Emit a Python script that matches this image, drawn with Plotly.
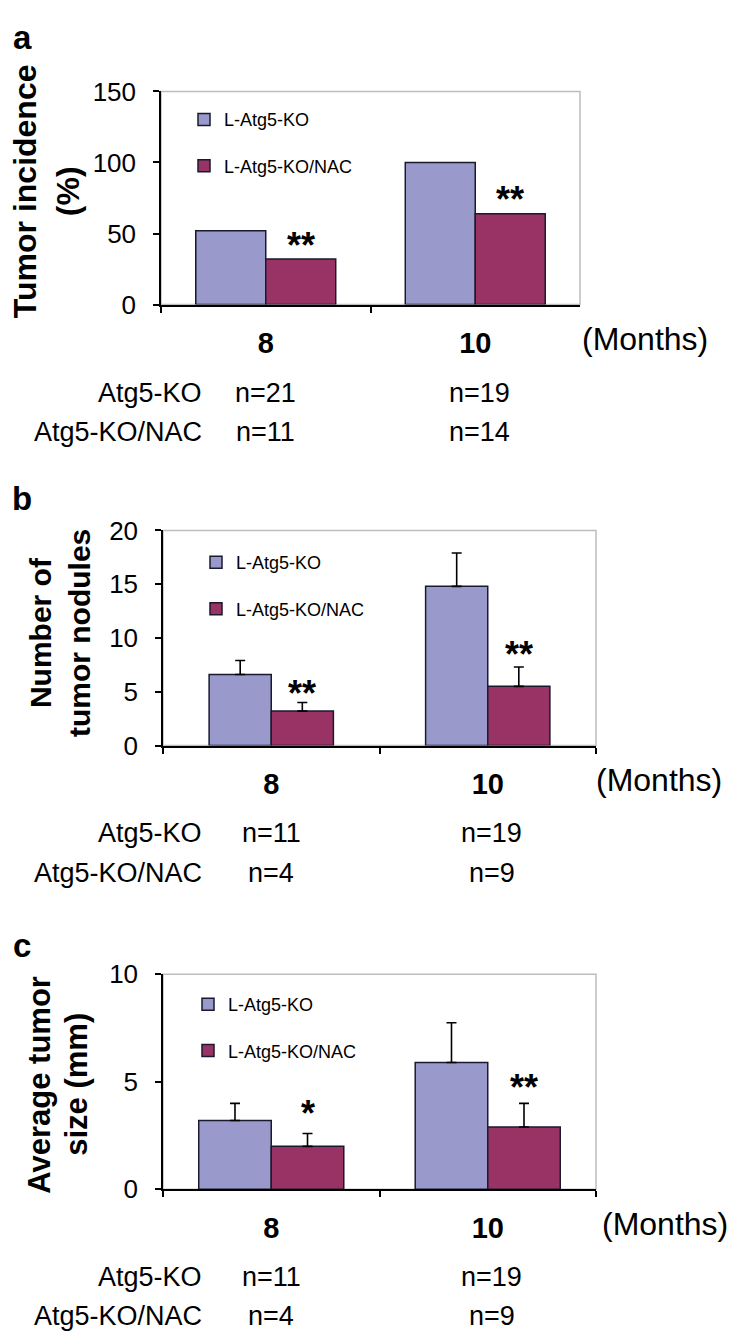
import plotly.graph_objects as go

W, H = 739, 1344

# ---------------- data ----------------
months = ["8", "10"]
series_names = ["L-Atg5-KO", "L-Atg5-KO/NAC"]
row_labels = ["Atg5-KO", "Atg5-KO/NAC"]

incidence_ko = [52, 100]
incidence_nac = [32, 64]

nodules_ko = [6.6, 14.8]
nodules_ko_err = [1.3, 3.1]
nodules_nac = [3.2, 5.5]
nodules_nac_err = [0.8, 1.8]

size_ko = [3.2, 5.9]
size_ko_err = [0.8, 1.85]
size_nac = [2.0, 2.9]
size_nac_err = [0.6, 1.1]

sig_a = ["**", "**"]
sig_b = ["**", "**"]
sig_c = ["*", "**"]

n_a_ko, n_a_nac = [21, 19], [11, 14]
n_b_ko, n_b_nac = [11, 19], [4, 9]
n_c_ko, n_c_nac = [11, 19], [4, 9]

# ---------------- style ----------------
C_KO = "#9999CC"
C_NAC = "#993366"
FONT = "Liberation Sans, Arial, sans-serif"


def px_x(p):
    return p / W


def px_y(p):
    return 1 - p / H


panels = [
    dict(sfx="", letter="a", box=(153, 572, 70, 288), rng=[0, 150], dtick=50,
         ko=incidence_ko, nac=incidence_nac, ko_err=None, nac_err=None,
         sig=sig_a, n_ko=n_a_ko, n_nac=n_a_nac, w=0.334,
         title=["Tumor incidence", "(%)"], tsize=32, tx=[17, 60], ty=172,
         letter_pos=(14, 15), months_x=572, leg=(176, 80), star_shift=[14, 14]),
    dict(sfx="2", letter="b", box=(155, 588, 519, 739), rng=[0, 20], dtick=5,
         ko=nodules_ko, nac=nodules_nac, ko_err=nodules_ko_err, nac_err=nodules_nac_err,
         sig=sig_b, n_ko=n_b_ko, n_nac=n_b_nac, w=0.287,
         title=["Number of", "tumor nodules"], tsize=30, tx=[32, 71], ty=624,
         letter_pos=(14, 486), months_x=586, leg=(188, 533), star_shift=[9, 12]),
    dict(sfx="3", letter="c", box=(155, 588, 973, 1193), rng=[0, 10], dtick=5,
         ko=size_ko, nac=size_nac, ko_err=size_ko_err, nac_err=size_nac_err,
         sig=sig_c, n_ko=n_c_ko, n_nac=n_c_nac, w=0.335,
         title=["Average tumor", "size (mm)"], tsize=31, tx=[32, 69], ty=1086,
         letter_pos=(14, 944), months_x=592, leg=(180, 985), star_shift=[20, 16]),
]

fig = go.Figure()
annotations = []
shapes = []
layout_extra = {}

for i, p in enumerate(panels):
    sfx = p["sfx"]
    xa, ya = "x" + sfx, "y" + sfx
    leg = "legend" + sfx
    w = p["w"]
    x0, x1, y0, y1 = p["box"]

    def err(arr):
        if arr is None:
            return None
        return dict(type="data", array=arr, arrayminus=[0] * len(arr), symmetric=False,
                    color="black", thickness=1.6, width=5)

    fig.add_trace(go.Bar(
        x=months, y=p["ko"], name=series_names[0], xaxis=xa, yaxis=ya,
        width=w, offset=-w, marker=dict(color=C_KO, line=dict(color="#1a1a2e", width=1.5)),
        error_y=err(p["ko_err"]), legend=leg, legendgroup="ko" + sfx, showlegend=True,
    ))
    fig.add_trace(go.Bar(
        x=months, y=p["nac"], name=series_names[1], xaxis=xa, yaxis=ya,
        width=w, offset=0, marker=dict(color=C_NAC, line=dict(color="#1a1a2e", width=1.5)),
        error_y=err(p["nac_err"]), legend=leg, legendgroup="nac" + sfx, showlegend=True,
    ))

    xkey = "xaxis" + sfx
    ykey = "yaxis" + sfx
    layout_extra[xkey] = dict(
        domain=[px_x(x0), px_x(x1)], anchor=ya, type="category",
        range=[-0.5, 1.5], showline=True, linecolor="black", linewidth=2,
        ticks="outside", tickson="boundaries", ticklen=6, tickcolor="black", tickwidth=1.5,
        tickfont=dict(family=FONT, size=29, color="black", weight="bold"),
        ticklabelstandoff=12, showgrid=False, zeroline=False, fixedrange=True,
    )
    layout_extra[ykey] = dict(
        domain=[px_y(y1), px_y(y0)], anchor=xa, range=p["rng"], dtick=p["dtick"],
        showline=True, linecolor="black", linewidth=1.5, ticks="outside", ticklen=6,
        tickcolor="black", tickwidth=1.5, ticklabelstandoff=12,
        tickfont=dict(family=FONT, size=26, color="black"),
        showgrid=False, zeroline=False, fixedrange=True,
    )
    layout_extra[leg] = dict(
        x=px_x(p["leg"][0]), y=px_y(p["leg"][1]), xanchor="left", yanchor="top",
        xref="paper", yref="paper", bgcolor="rgba(0,0,0,0)", borderwidth=0,
        font=dict(family=FONT, size=18, color="black"), tracegroupgap=20,
        traceorder="grouped", itemclick=False, itemdoubleclick=False,
    )

    # grey plot-area frame (top and right)
    shapes.append(dict(type="rect", xref=xa + " domain", yref=ya + " domain",
                       x0=0, x1=1, y0=0, y1=1, line=dict(color="#BDBDBD", width=1.5),
                       layer="below"))

    # significance stars above NAC bars
    for k, s in enumerate(p["sig"]):
        top = p["nac"][k] + (p["nac_err"][k] if p["nac_err"] else 0)
        annotations.append(dict(
            x=k + w / 2, y=top, xref=xa, yref=ya, text=s, showarrow=False,
            xanchor="center", yanchor="middle", yshift=p["star_shift"][k],
            font=dict(family=FONT, size=36, color="black", weight="bold"),
        ))

    # panel letter
    annotations.append(dict(
        x=px_x(p["letter_pos"][0]), y=px_y(p["letter_pos"][1]), xref="paper", yref="paper",
        text="<b>%s</b>" % p["letter"], showarrow=False, xanchor="center", yanchor="middle",
        font=dict(family=FONT, size=33, color="black"),
    ))

    # y-axis titles (two lines, rotated)
    for line, tx in zip(p["title"], p["tx"]):
        annotations.append(dict(
            x=px_x(tx), y=px_y(p["ty"]), xref="paper", yref="paper",
            text="<b>%s</b>" % line, showarrow=False, textangle=-90,
            xanchor="center", yanchor="middle",
            font=dict(family=FONT, size=p["tsize"], color="black"),
        ))

    # (Months)
    annotations.append(dict(
        x=px_x(p["months_x"]), y=px_y(y1 + 35), xref="paper", yref="paper",
        text="(Months)", showarrow=False, xanchor="left", yanchor="middle",
        font=dict(family=FONT, size=32, color="black"),
    ))

    # sample size rows
    for r, (lab, ns) in enumerate(zip(row_labels, [p["n_ko"], p["n_nac"]])):
        ypx = y1 + 90 + 40 * r
        annotations.append(dict(
            x=px_x(196), y=px_y(ypx), xref="paper", yref="paper", text=lab,
            showarrow=False, xanchor="right", yanchor="middle",
            font=dict(family=FONT, size=27, color="black"),
        ))
        for k, n in enumerate(ns):
            annotations.append(dict(
                x=k, y=px_y(ypx), xref=xa, yref="paper", text="n=%d" % n,
                showarrow=False, xanchor="center", yanchor="middle", xshift=4 * k,
                font=dict(family=FONT, size=27, color="black"),
            ))

fig.update_layout(
    width=W, height=H, margin=dict(l=0, r=0, t=0, b=0),
    paper_bgcolor="white", plot_bgcolor="white", barmode="overlay",
    annotations=annotations, shapes=shapes, showlegend=True,
    font=dict(family=FONT, color="black"),
    **layout_extra,
)

fig.write_html("out.html", config={"displayModeBar": False})
